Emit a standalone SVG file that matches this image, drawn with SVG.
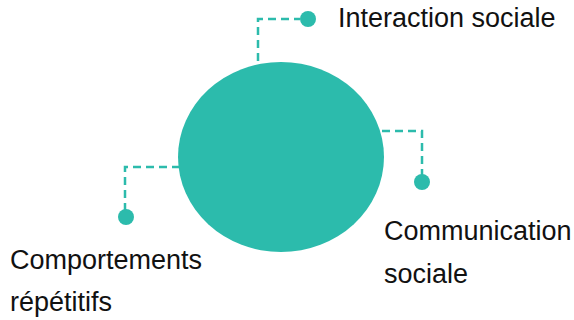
<svg xmlns="http://www.w3.org/2000/svg" width="574" height="320" viewBox="0 0 574 320">
<style>
.lbl{font-family:"Liberation Sans",Arial,sans-serif;font-size:27px;fill:#111}
.con{fill:none;stroke:#2CBBAC;stroke-width:2.5;stroke-dasharray:8 5}
.dot{fill:#2CBBAC}
</style>
<rect width="574" height="320" fill="#fff"/>
<g id="connectors">
<path class="con" d="M258 61 V19 H300"/>
<path class="con" d="M382 131 H422 V176"/>
<path class="con" d="M180 167 H125 V210"/>
</g>
<g id="center">
<ellipse cx="281" cy="157" rx="103" ry="95" fill="#2CBBAC"/>
</g>
<g id="interaction">
<circle class="dot" cx="308" cy="19" r="8"/>
<text class="lbl" x="338" y="27">Interaction sociale</text>
</g>
<g id="communication">
<circle class="dot" cx="422" cy="182" r="8"/>
<text class="lbl" x="384" y="240">Communication</text>
<text class="lbl" x="384" y="283">sociale</text>
</g>
<g id="comportements">
<circle class="dot" cx="126" cy="217" r="8"/>
<text class="lbl" x="10" y="269">Comportements</text>
<text class="lbl" x="10" y="311">répétitifs</text>
</g>
</svg>
